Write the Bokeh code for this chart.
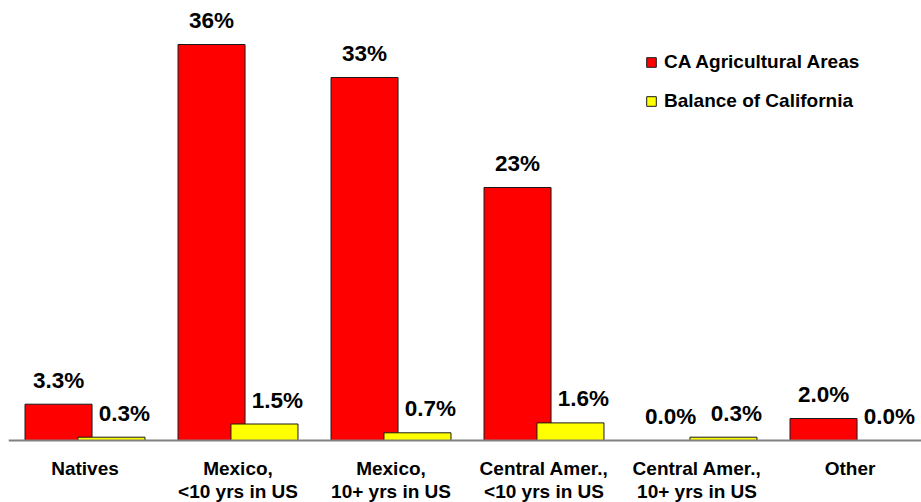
from bokeh.plotting import figure
from bokeh.models import Range1d, Legend, LegendItem, ColumnDataSource, Span
from bokeh.core.properties import value
from bokeh.embed import file_html
from bokeh.resources import INLINE

cat_line1 = ["Natives", "Mexico,", "Mexico,", "Central Amer.,", "Central Amer.,", "Other"]
cat_line2 = ["", "<10 yrs in US", "10+ yrs in US", "<10 yrs in US", "10+ yrs in US", ""]
ag_values = [3.3, 36, 33, 23, 0.0, 2.0]
ag_labels = ["3.3%", "36%", "33%", "23%", "0.0%", "2.0%"]
bal_values = [0.3, 1.5, 0.7, 1.6, 0.3, 0.0]
bal_labels = ["0.3%", "1.5%", "0.7%", "1.6%", "0.3%", "0.0%"]
series_names = ["CA Agricultural Areas", "Balance of California"]

FONT = "Liberation Sans"
idx = list(range(len(cat_line1)))
off = 0.173
bw = 0.438

src_a = ColumnDataSource(dict(x=[i - off for i in idx], top=ag_values, lab=ag_labels))
src_b = ColumnDataSource(dict(x=[i + off for i in idx], top=bal_values, lab=bal_labels))
src_c = ColumnDataSource(dict(x=idx, y=[0] * len(idx), l1=cat_line1, l2=cat_line2))

p = figure(width=921, height=502, output_backend="svg", toolbar_location=None,
           x_range=Range1d(-0.5, -0.5 + 913 / 153), y_range=Range1d(-62 / 11, 40),
           min_border_left=8, min_border_right=0, min_border_top=0, min_border_bottom=0)
p.outline_line_color = None
p.grid.visible = False
p.axis.visible = False

r1 = p.vbar(x="x", top="top", width=bw, source=src_a, fill_color="#FF0000",
            line_color="#1a1a1a", line_width=1)
r2 = p.vbar(x="x", top="top", width=bw, source=src_b, fill_color="#FFFF00",
            line_color="#1a1a1a", line_width=1)

p.add_layout(Span(location=0, dimension="width", line_color="#808080", line_width=2))

lab_kw = dict(text_baseline="alphabetic", text_font=value(FONT), text_font_style="bold",
              text_font_size="22.5px", text_color="#000000")
p.text(x="x", y="top", text="lab", source=src_a, text_align="center", y_offset=-24, **lab_kw)
p.text(x="x", y="top", text="lab", source=src_b, text_align="center", x_offset=13,
       y_offset=-24, **lab_kw)

cat_kw = dict(text_align="center", text_baseline="middle", text_font=value(FONT),
              text_font_style="bold", text_font_size="19px", text_color="#000000")
p.text(x="x", y="y", text="l1", source=src_c, y_offset=28, **cat_kw)
p.text(x="x", y="y", text="l2", source=src_c, y_offset=51, **cat_kw)

legend = Legend(items=[LegendItem(label=series_names[0], renderers=[r1]),
                       LegendItem(label=series_names[1], renderers=[r2])],
                location=(637, 390), glyph_width=12, glyph_height=12,
                label_standoff=7, spacing=17, padding=0, margin=0,
                border_line_color=None, background_fill_alpha=0, label_height=20)
legend.label_text_font = FONT
legend.label_text_font_style = "bold"
legend.label_text_font_size = "19px"
legend.label_text_color = "#000000"
p.add_layout(legend)

open("out.html", "w").write(file_html(p, INLINE))
